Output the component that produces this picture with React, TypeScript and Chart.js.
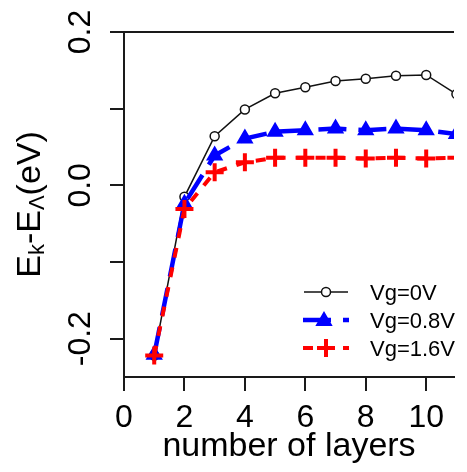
import React, { useEffect, useRef } from 'react';
import { Chart, registerables } from 'chart.js';

Chart.register(...registerables);

// ---- data ----
const layers = [1, 2, 3, 4, 5, 6, 7, 8, 9, 10, 11];
const vg0 = [-0.222, -0.015, 0.064, 0.099, 0.12, 0.128, 0.136, 0.139, 0.143, 0.144, 0.119];
const vg08 = [-0.221, -0.024, 0.039, 0.061, 0.07, 0.072, 0.074, 0.072, 0.074, 0.072, 0.067];
const vg16 = [-0.222, -0.031, 0.017, 0.03, 0.036, 0.036, 0.036, 0.035, 0.036, 0.035, 0.036];
const seriesNames = ['Vg=0V', 'Vg=0.8V', 'Vg=1.6V'];

const xTickValues = [0, 2, 4, 6, 8, 10];
const xTickLabels = ['0', '2', '4', '6', '8', '10'];
const yTickValues = [-0.2, -0.1, 0, 0.1, 0.2];
const yLabelValues = [-0.2, 0, 0.2];
const yTickLabels = ['-0.2', '0.0', '0.2'];
const xTitle = 'number of layers';
// y title pieces: [text, isSubscript]
const yTitleParts: [string, boolean][] = [
  ['E', false],
  ['k', true],
  ['-E', false],
  ['Λ', true],
  ['(eV)', false],
];

const FONT = '"Liberation Sans", Arial, Helvetica, sans-serif';
const AX = '#1a1a1a';
const BLUE = '#0000ff';
const RED = '#ff0000';

function drawCircle(ctx: CanvasRenderingContext2D, x: number, y: number) {
  ctx.save();
  ctx.beginPath();
  ctx.arc(x, y, 4.5, 0, Math.PI * 2);
  ctx.fillStyle = '#fff';
  ctx.fill();
  ctx.lineWidth = 1.5;
  ctx.strokeStyle = '#111';
  ctx.stroke();
  ctx.restore();
}
function drawTriangle(ctx: CanvasRenderingContext2D, x: number, y: number, r: number) {
  ctx.save();
  ctx.beginPath();
  const a0 = 0;
  for (let i = 0; i < 3; i++) {
    const a = a0 + (i * 2 * Math.PI) / 3;
    const px = x + Math.sin(a) * r;
    const py = y - Math.cos(a) * r;
    if (i === 0) ctx.moveTo(px, py);
    else ctx.lineTo(px, py);
  }
  ctx.closePath();
  ctx.fillStyle = BLUE;
  ctx.strokeStyle = BLUE;
  ctx.lineWidth = 2;
  ctx.fill();
  ctx.stroke();
  ctx.restore();
}
function drawPlus(ctx: CanvasRenderingContext2D, x: number, y: number, r: number) {
  ctx.save();
  ctx.beginPath();
  ctx.moveTo(x - r, y);
  ctx.lineTo(x + r, y);
  ctx.moveTo(x, y - r);
  ctx.lineTo(x, y + r);
  ctx.strokeStyle = RED;
  ctx.lineWidth = 4;
  ctx.stroke();
  ctx.restore();
}

const textPlugin = {
  id: 'customText',
  afterDraw(chart: any) {
    const { ctx, chartArea } = chart;
    const { left, right, top, bottom } = chartArea;
    const xs = chart.scales.x;
    const ys = chart.scales.y;
    ctx.save();
    // top border
    ctx.strokeStyle = AX;
    ctx.lineWidth = 2;
    ctx.beginPath();
    ctx.moveTo(left - 1, top);
    ctx.lineTo(right, top);
    ctx.stroke();

    ctx.fillStyle = '#000';
    // x tick labels
    ctx.font = `32px ${FONT}`;
    ctx.textAlign = 'center';
    ctx.textBaseline = 'alphabetic';
    xTickValues.forEach((v, i) => {
      ctx.fillText(xTickLabels[i], xs.getPixelForValue(v), bottom + 50);
    });
    // x title
    ctx.font = `34px ${FONT}`;
    ctx.fillText(xTitle, (left + right) / 2, bottom + 79);

    // y tick labels (rotated)
    ctx.font = `32px ${FONT}`;
    yLabelValues.forEach((v, i) => {
      ctx.save();
      ctx.translate(left - 34, ys.getPixelForValue(v));
      ctx.rotate(-Math.PI / 2);
      ctx.textAlign = 'center';
      ctx.fillText(yTickLabels[i], 0, 0);
      ctx.restore();
    });

    // y title (rotated, with subscripts)
    const big = `34px ${FONT}`;
    const small = `22px ${FONT}`;
    let total = 0;
    const widths = yTitleParts.map(([t, sub]) => {
      ctx.font = sub ? small : big;
      const w = ctx.measureText(t).width;
      total += w;
      return w;
    });
    ctx.save();
    ctx.translate(40, (top + bottom) / 2);
    ctx.rotate(-Math.PI / 2);
    ctx.textAlign = 'left';
    let cx = -total / 2;
    yTitleParts.forEach(([t, sub], i) => {
      ctx.font = sub ? small : big;
      ctx.fillText(t, cx, sub ? 4 : 0);
      cx += widths[i];
    });
    ctx.restore();

    // legend
    const rows = [292, 320, 348];
    const lx0 = 304;
    const lx1 = 348;
    const mx = 326;
    // row 1
    ctx.save();
    ctx.strokeStyle = '#111';
    ctx.lineWidth = 1.5;
    ctx.beginPath();
    ctx.moveTo(lx0, rows[0]);
    ctx.lineTo(lx1, rows[0]);
    ctx.stroke();
    ctx.restore();
    drawCircle(ctx, mx, rows[0]);
    // row 2
    ctx.save();
    ctx.strokeStyle = BLUE;
    ctx.lineWidth = 4.5;
    ctx.setLineDash([28, 12]);
    ctx.beginPath();
    ctx.moveTo(lx0 - 1, rows[1]);
    ctx.lineTo(lx1 + 1, rows[1]);
    ctx.stroke();
    ctx.restore();
    drawTriangle(ctx, mx - 2, rows[1] + 1, 8);
    // row 3
    ctx.save();
    ctx.strokeStyle = RED;
    ctx.lineWidth = 4;
    ctx.setLineDash([10, 10]);
    ctx.beginPath();
    ctx.moveTo(lx0 - 1, rows[2]);
    ctx.lineTo(lx1 + 1, rows[2]);
    ctx.stroke();
    ctx.restore();
    drawPlus(ctx, mx, rows[2], 9);

    ctx.font = `22px ${FONT}`;
    ctx.textAlign = 'left';
    ctx.textBaseline = 'alphabetic';
    ctx.fillStyle = '#000';
    seriesNames.forEach((n, i) => {
      ctx.fillText(n, 370, rows[i] + 8);
    });
    ctx.restore();
  },
};

export default function App() {
  const ref = useRef<HTMLCanvasElement | null>(null);
  useEffect(() => {
    if (!ref.current) return;
    const chart = new Chart(ref.current, {
      type: 'line',
      data: {
        datasets: [
          {
            label: seriesNames[0],
            data: layers.map((x, i) => ({ x, y: vg0[i] })),
            borderColor: '#111',
            borderWidth: 1.5,
            pointStyle: 'circle',
            pointRadius: 4.5,
            pointBorderWidth: 1.5,
            pointBackgroundColor: '#fff',
            pointBorderColor: '#111',
            order: 3,
          },
          {
            label: seriesNames[1],
            data: layers.map((x, i) => ({ x, y: vg08[i] })),
            borderColor: BLUE,
            borderWidth: 4.5,
            borderDash: [28, 12],
            pointStyle: 'triangle',
            pointRadius: 8,
            pointBorderWidth: 2,
            pointBackgroundColor: BLUE,
            pointBorderColor: BLUE,
            order: 2,
          },
          {
            label: seriesNames[2],
            data: layers.map((x, i) => ({ x, y: vg16[i] })),
            borderColor: RED,
            borderWidth: 4,
            borderDash: [10, 10],
            pointStyle: 'cross',
            pointRadius: 9,
            pointBorderWidth: 4,
            pointBackgroundColor: RED,
            pointBorderColor: RED,
            order: 1,
          },
        ],
      },
      options: {
        responsive: false,
        animation: false,
        layout: { padding: { left: 110, right: 0, top: 32, bottom: 81 } },
        plugins: { legend: { display: false }, tooltip: { enabled: false }, title: { display: false } },
        scales: {
          x: {
            type: 'linear',
            min: 0,
            max: 10.92,
            afterBuildTicks: (s: any) => {
              s.ticks = xTickValues.map((v) => ({ value: v }));
            },
            ticks: { display: false },
            grid: { display: true, drawOnChartArea: false, drawTicks: true, tickLength: 14, color: AX, lineWidth: 2 },
            border: { display: true, color: AX, width: 2 },
          },
          y: {
            type: 'linear',
            min: -0.25,
            max: 0.2,
            afterBuildTicks: (s: any) => {
              s.ticks = yTickValues.map((v) => ({ value: v }));
            },
            ticks: { display: false },
            grid: { display: true, drawOnChartArea: false, drawTicks: true, tickLength: 14, color: AX, lineWidth: 2 },
            border: { display: true, color: AX, width: 2 },
          },
        },
      },
      plugins: [textPlugin],
    } as any);
    return () => chart.destroy();
  }, []);
  return (
    <div style={{ position: 'fixed', left: 0, top: 0, width: 467, height: 472, overflow: 'hidden', background: '#fff' }}>
      <canvas ref={ref} width={467} height={472} style={{ display: 'block', width: 467, height: 472 }} />
    </div>
  );
}
